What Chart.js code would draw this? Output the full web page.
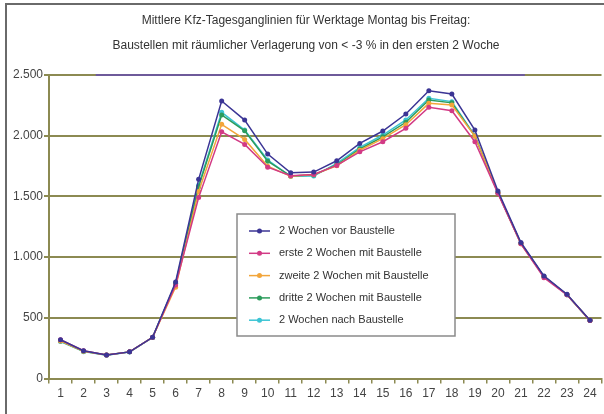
<!DOCTYPE html>
<html>
<head>
<meta charset="utf-8">
<script src="https://cdn.jsdelivr.net/npm/chart.js@4.4.1/dist/chart.umd.min.js"></script>
<style>
  html, body { margin: 0; padding: 0; background: #fff; }
  #wrap { position: relative; width: 604px; height: 414px; }
  #frame { position: absolute; left: 5px; top: 3px; right: -4px; bottom: -4px;
           border-top: 2px solid #6a6a6a; border-left: 2px solid #6a6a6a; pointer-events: none; }
  canvas { position: absolute; left: 0; top: 0; }
</style>
</head>
<body>
<div id="wrap">
  <canvas id="chart" width="604" height="414"></canvas>
  <div id="frame"></div>
</div>
<script>
// Stunde 1..24
const hours = ['1','2','3','4','5','6','7','8','9','10','11','12','13','14','15','16','17','18','19','20','21','22','23','24'];

const vorBaustelle    = [320, 230, 195, 220, 340, 795, 1640, 2285, 2128, 1848, 1694, 1700, 1793, 1936, 2038, 2178, 2370, 2343, 2046, 1545, 1120, 845, 695, 480];
const ersteWochen     = [320, 230, 195, 220, 340, 770, 1490, 2032, 1928, 1740, 1670, 1680, 1755, 1867, 1950, 2060, 2234, 2205, 1950, 1525, 1110, 830, 690, 478];
const zweiteWochen    = [310, 225, 195, 220, 340, 753, 1540, 2093, 1969, 1749, 1665, 1680, 1752, 1880, 1975, 2090, 2266, 2252, 1997, 1530, 1110, 838, 690, 478];
const dritteWochen    = [310, 225, 195, 220, 340, 780, 1580, 2170, 2040, 1790, 1667, 1675, 1760, 1890, 1990, 2110, 2294, 2270, 1997, 1530, 1112, 840, 690, 478];
const nachBaustelle   = [305, 222, 192, 218, 338, 785, 1592, 2192, 2046, 1799, 1665, 1667, 1771, 1903, 2005, 2129, 2308, 2280, 2000, 1530, 1115, 842, 690, 478];

const seriesNames = ['2 Wochen vor Baustelle', 'erste 2 Wochen mit Baustelle', 'zweite 2 Wochen mit Baustelle', 'dritte 2 Wochen mit Baustelle', '2 Wochen nach Baustelle'];
const seriesColors = ['#3b3595', '#d23a85', '#f2a53a', '#2c9c5c', '#3cc4d4'];
const seriesData = [vorBaustelle, ersteWochen, zweiteWochen, dritteWochen, nachBaustelle];

const gridColor = '#8c8a52';

function formatDE(v) {
    return String(v).replace(/\B(?=(\d{3})+(?!\d))/g, '.');
}

// Legende innerhalb der Zeichenfläche
const insideLegend = {
    id: 'insideLegend',
    afterDraw(chart) {
        const ctx = chart.ctx;
        const bx = 237, by = 214, bw = 218, bh = 122;
        ctx.save();
        ctx.fillStyle = '#ffffff';
        ctx.fillRect(bx, by, bw, bh);
        ctx.strokeStyle = '#8a8a8a';
        ctx.lineWidth = 1.5;
        ctx.strokeRect(bx, by, bw, bh);
        ctx.font = '11px "Liberation Sans", Arial, sans-serif';
        ctx.textBaseline = 'middle';
        chart.data.datasets.forEach((ds, i) => {
            const yy = by + 17 + i * 22.3;
            ctx.strokeStyle = ds.borderColor;
            ctx.lineWidth = 1.5;
            ctx.beginPath();
            ctx.moveTo(bx + 12, yy);
            ctx.lineTo(bx + 33, yy);
            ctx.stroke();
            ctx.fillStyle = ds.borderColor;
            ctx.beginPath();
            ctx.arc(bx + 22.5, yy, 2.5, 0, Math.PI * 2);
            ctx.fill();
            ctx.fillStyle = '#333';
            ctx.fillText(ds.label, bx + 42, yy);
        });
        ctx.restore();
    }
};

// violette Linie am oberen Rand (im Original vorhanden)
const topLine = {
    id: 'topLine',
    afterDatasetsDraw(chart) {
        const ctx = chart.ctx;
        const x = chart.scales.x, y = chart.scales.y;
        const yy = y.getPixelForValue(2500);
        ctx.save();
        ctx.strokeStyle = '#6e5a9a';
        ctx.lineWidth = 2;
        ctx.beginPath();
        ctx.moveTo(x.getPixelForValue(1.53), yy);
        ctx.lineTo(x.getPixelForValue(20.17), yy);
        ctx.stroke();
        ctx.restore();
    }
};

const ctx = document.getElementById('chart').getContext('2d');
const chart = new Chart(ctx, {
    type: 'line',
    data: {
        labels: hours,
        datasets: seriesNames.map((name, i) => ({
            label: name,
            data: seriesData[i],
            borderColor: seriesColors[i],
            backgroundColor: seriesColors[i],
            borderWidth: 1.5,
            pointRadius: 2.5,
            pointHoverRadius: 2.5,
            pointBorderWidth: 0,
            tension: 0
        }))
    },
    options: {
        responsive: false,
        animation: false,
        layout: { padding: { left: 8, right: 0, top: 8, bottom: 10 } },
        plugins: {
            legend: { display: false },
            tooltip: { enabled: false },
            title: {
                display: true,
                text: ['Mittlere Kfz-Tagesganglinien für Werktage Montag bis Freitag:', 'Baustellen mit räumlicher Verlagerung von < -3 % in den ersten 2 Woche'],
                color: '#333',
                font: { family: '"Liberation Sans", Arial, sans-serif', size: 12, weight: 'normal', lineHeight: 2.1 },
                padding: { top: 0, bottom: 16.5 }
            }
        },
        scales: {
            x: {
                offset: true,
                grid: { offset: true, drawOnChartArea: false, drawTicks: true, tickLength: 5, color: gridColor, lineWidth: 1.5 },
                border: { display: true, color: gridColor, width: 2 },
                ticks: { color: '#444', font: { family: '"Liberation Sans", Arial, sans-serif', size: 12 }, padding: 3, maxRotation: 0 }
            },
            y: {
                min: 0,
                max: 2500,
                afterFit(scale) { scale.width = 41; },
                grid: { color: gridColor, lineWidth: 2, tickLength: 5 },
                border: { display: true, color: gridColor, width: 2 },
                ticks: {
                    stepSize: 500,
                    color: '#444',
                    font: { family: '"Liberation Sans", Arial, sans-serif', size: 12 },
                    padding: 1,
                    callback: v => formatDE(v)
                }
            }
        }
    },
    plugins: [topLine, insideLegend]
});
</script>
</body>
</html>
